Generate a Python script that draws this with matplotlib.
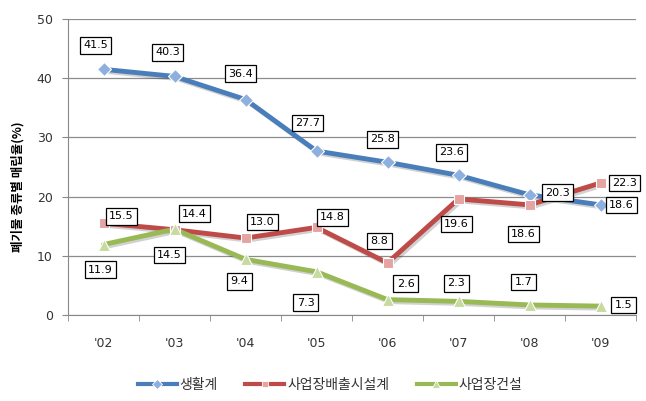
import matplotlib
matplotlib.use("Agg")
import matplotlib.pyplot as plt
import matplotlib.patheffects as pe
from matplotlib.lines import Line2D

plt.rcParams['font.family'] = ['Noto Sans CJK KR', 'DejaVu Sans']

years = ["'02", "'03", "'04", "'05", "'06", "'07", "'08", "'09"]
series_names = ["생활계", "사업장배출시설계", "사업장건설"]
household = [41.5, 40.3, 36.4, 27.7, 25.8, 23.6, 20.3, 18.6]
facility = [15.5, 14.4, 13.0, 14.8, 8.8, 19.6, 18.6, 22.3]
construction = [11.9, 14.5, 9.4, 7.3, 2.6, 2.3, 1.7, 1.5]
yticks = [0, 10, 20, 30, 40, 50]
ylabel = "폐기물 종류별 매립율(%)"

# label offsets in pixels (dx, dy) relative to each point
off_h = [(-8, 24), (-7, 24), (-5, 26), (-9, 28), (-5, 23), (-7, 23), (28, 2), (21, 0)]
off_f = [(18, 7), (20, 16), (17, 16), (16, 10), (-8, 22), (-2, -25), (-6, -29), (24, 0)]
off_c = [(-3, -25), (-5, -26), (-6, -22), (-11, -31), (18, 16), (-2, 18), (-6, 23), (23, 1)]

fig = plt.figure(figsize=(6.46, 4.01), dpi=100)
ax = fig.add_axes([68/646, 1 - 315/401, (636-68)/646, (315-19)/401])

x = list(range(len(years)))
styles = [
    (household, "#4A7EBB", "#8DB0DF", "D", 7, off_h),
    (facility, "#BE4B48", "#E5A3A2", "s", 7, off_f),
    (construction, "#98B954", "#C7DA9F", "^", 8, off_c),
]
handles = []
for (vals, lc, mc, mk, ms, offs), name in zip(styles, series_names):
    ax.plot(x, vals, color=lc, lw=3.5,
            solid_capstyle="round", solid_joinstyle="round", zorder=3,
            path_effects=[pe.SimpleLineShadow(offset=(1.5, -1.5), alpha=0.18), pe.Normal()])
    ax.plot(x, vals, ls="none", marker=mk, markersize=ms,
            markerfacecolor=mc, markeredgecolor="white", markeredgewidth=0.8, zorder=4)
    handles.append(Line2D([], [], color=lc, lw=3, marker=mk, markersize=ms - 2,
                          markerfacecolor=mc, markeredgecolor="white", markeredgewidth=0.6,
                          label=name))
    for xi, v, (dx, dy) in zip(x, vals, offs):
        ax.annotate(f"{v:.1f}", (xi, v), xytext=(dx, dy), textcoords="offset pixels",
                    ha="center", va="center", fontsize=8, family="DejaVu Sans", zorder=5,
                    bbox=dict(boxstyle="square,pad=0.3", fc="white", ec="black", lw=0.9))

ax.set_xlim(-0.5, len(years) - 0.5)
ax.set_ylim(0, 50)
ax.set_yticks(yticks)
ax.set_yticklabels([str(t) for t in yticks], fontsize=9, family="DejaVu Sans", color="#333333")
ax.set_xticks(x)
ax.set_xticklabels(years, fontsize=9, family="DejaVu Sans", color="#333333")
ax.tick_params(axis="x", length=0, pad=16)
ax.set_xticks([i + 0.5 for i in range(-1, len(years))], minor=True)
ax.tick_params(axis="x", which="minor", length=4, color="#888888")
ax.tick_params(axis="y", length=4, color="#888888", pad=7)
ax.grid(axis="y", color="#8C8C8C", lw=0.9)
ax.set_axisbelow(True)
for s in ["top", "right"]:
    ax.spines[s].set_visible(False)
ax.spines["left"].set_color("#888888")
ax.spines["bottom"].set_color("#888888")

fig.text(18/646, 1 - 187/401, ylabel, rotation=90, ha="center", va="center",
         fontsize=9, fontweight="bold")

fig.legend(handles=handles, loc="center", bbox_to_anchor=(330/646, 1 - 385/401),
           ncol=3, frameon=False, fontsize=10, handlelength=2.8, columnspacing=2.0,
           handletextpad=0.2, labelcolor="#333333")

fig.savefig("out.png", dpi=100)
